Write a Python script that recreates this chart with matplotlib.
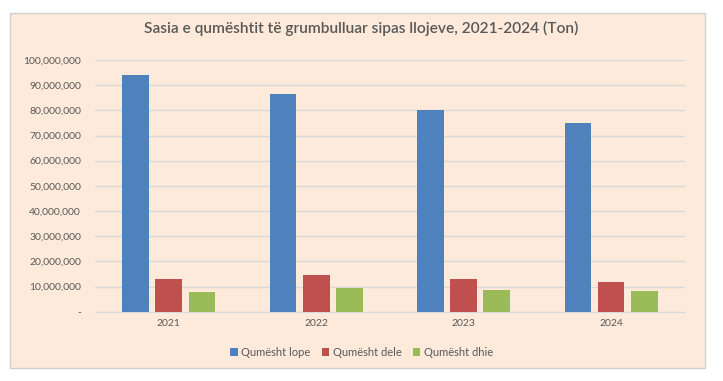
import numpy as np
import matplotlib.pyplot as plt
from matplotlib.ticker import FuncFormatter, MultipleLocator
from matplotlib.patches import Rectangle

years = ['2021', '2022', '2023', '2024']
lope = [93.9e6, 86.6e6, 80.1e6, 75.0e6]
dele = [13.1e6, 14.5e6, 12.9e6, 11.7e6]
dhie = [7.9e6, 9.3e6, 8.6e6, 8.3e6]
series_names = ['Qumësht lope', 'Qumësht dele', 'Qumësht dhie']
colors = ['#4F81BD', '#C0504D', '#9BBB59']

plt.rcParams['font.family'] = ['Lato', 'DejaVu Sans']
txt = '#595959'
bg = '#FDEADA'

fig = plt.figure(figsize=(7.23, 3.81), dpi=100, facecolor='white')
# chart panel (behind the axes)
fig.patches.append(Rectangle((0.0138, 0.034), 0.9613, 0.932, transform=fig.transFigure,
                             facecolor=bg, edgecolor='#D0D0D0', lw=1, zorder=-10))

ax = fig.add_axes([0.1314, 0.1819, 0.816, 0.6606])
ax.set_facecolor('none')

x = np.arange(len(years))
step = 0.224
w = 0.18
for i, (vals, name, c) in enumerate(zip([lope, dele, dhie], series_names, colors)):
    ax.bar(x + (i - 1) * step, vals, width=w, color=c, label=name, zorder=3)

ax.set_xlim(-0.5, 3.5)
ax.set_ylim(0, 100e6)
ax.yaxis.set_major_locator(MultipleLocator(10e6))
ax.yaxis.set_major_formatter(FuncFormatter(lambda v, p: '-' if v == 0 else f'{v:,.0f}'))
ax.grid(axis='y', color='#D9D9D9', lw=1, zorder=0)
ax.set_axisbelow(True)
for s in ['top', 'right', 'left']:
    ax.spines[s].set_visible(False)
ax.spines['bottom'].set_color('#D9D9D9')
ax.set_xticks(x)
ax.set_xticklabels(years)
ax.tick_params(axis='both', length=0, colors=txt, labelsize=7.5)
ax.tick_params(axis='y', pad=10)
ax.tick_params(axis='x', pad=5)

fig.text(0.5, 0.926, 'Sasia e qumështit të grumbulluar sipas llojeve, 2021-2024 (Ton)',
         ha='center', va='center', fontsize=11.2, color=txt, fontweight='semibold')

fig.legend(loc='center', bbox_to_anchor=(0.5, 0.076), ncol=3, frameon=False,
           fontsize=8, labelcolor=txt, handlelength=0.7, handleheight=0.7,
           handletextpad=0.3, columnspacing=1.0)

fig.savefig('out.png', dpi=100, facecolor='white')
